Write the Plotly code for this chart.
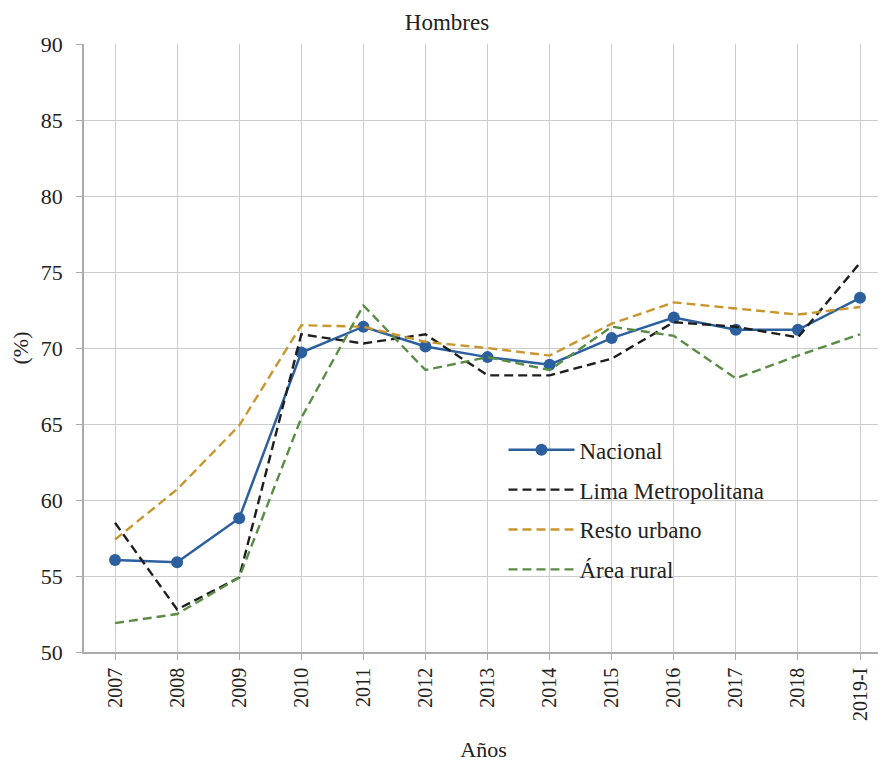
import plotly.graph_objects as go

# Categories and series values
years = ['2007', '2008', '2009', '2010', '2011', '2012', '2013',
         '2014', '2015', '2016', '2017', '2018', '2019-I']
nacional = [56.05, 55.9, 58.8, 69.7, 71.4, 70.1, 69.4, 68.9, 70.65, 72.0, 71.2, 71.2, 73.3]
lima = [58.5, 52.8, 54.9, 70.9, 70.3, 70.9, 68.2, 68.2, 69.3, 71.7, 71.4, 70.7, 75.6]
resto = [57.4, 60.7, 64.9, 71.5, 71.4, 70.4, 70.0, 69.5, 71.6, 73.0, 72.6, 72.2, 72.7]
rural = [51.9, 52.5, 54.9, 65.4, 72.8, 68.55, 69.4, 68.55, 71.4, 70.8, 68.0, 69.5, 70.9]

FONT = 'Liberation Serif'
DASH = '9px,5px'

fig = go.Figure()
fig.add_trace(go.Scatter(x=years, y=nacional, name='Nacional', mode='lines+markers',
                         legendgroup='a',
                         line=dict(color='#2C5F9E', width=2.5),
                         marker=dict(size=12, color='#2C5F9E')))
fig.add_trace(go.Scatter(x=years, y=lima, name='Lima Metropolitana', mode='lines',
                         legendgroup='b',
                         line=dict(color='#1E1E1E', width=2.4, dash=DASH)))
fig.add_trace(go.Scatter(x=years, y=resto, name='Resto urbano', mode='lines',
                         legendgroup='c',
                         line=dict(color='#C8962E', width=2.4, dash=DASH)))
fig.add_trace(go.Scatter(x=years, y=rural, name='Área rural', mode='lines',
                         legendgroup='d',
                         line=dict(color='#5A8C46', width=2.4, dash=DASH)))

# the page body has an 8px margin, so the figure is a bit smaller and shifted
fig.update_layout(
    width=878, height=754,
    paper_bgcolor='white', plot_bgcolor='white',
    font=dict(family=FONT, size=21, color='#222222'),
    margin=dict(l=76, r=3, t=36, b=110),
    title=dict(text='Hombres', x=0.5, xanchor='center', y=0.992, yanchor='top',
               font=dict(family=FONT, size=23, color='#222222')),
    showlegend=True,
    legend=dict(x=0.525, y=0.368, xanchor='left', yanchor='top',
                bgcolor='rgba(0,0,0,0)', font=dict(family=FONT, size=23),
                itemwidth=66, tracegroupgap=7),
    xaxis=dict(type='category', range=[-0.5, 12.37], automargin=False,
               showgrid=True, gridcolor='#CCCCCC', gridwidth=1,
               showline=True, linecolor='#AAAAAA', linewidth=1.5,
               ticks='outside', ticklen=6, tickcolor='#AAAAAA',
               tickangle=-90, tickfont=dict(size=20),
               title=dict(text='Años', standoff=22, font=dict(size=22))),
    yaxis=dict(range=[50, 90], dtick=5, automargin=False,
               showgrid=True, gridcolor='#CCCCCC', gridwidth=1,
               showline=True, linecolor='#AAAAAA', linewidth=1.5,
               ticks='outside', ticklen=6, tickcolor='#AAAAAA',
               ticklabelstandoff=9,
               zeroline=False, tickfont=dict(size=22),
               title=dict(text='(%)', standoff=12, font=dict(size=22))),
)

fig.write_html('out.html')
